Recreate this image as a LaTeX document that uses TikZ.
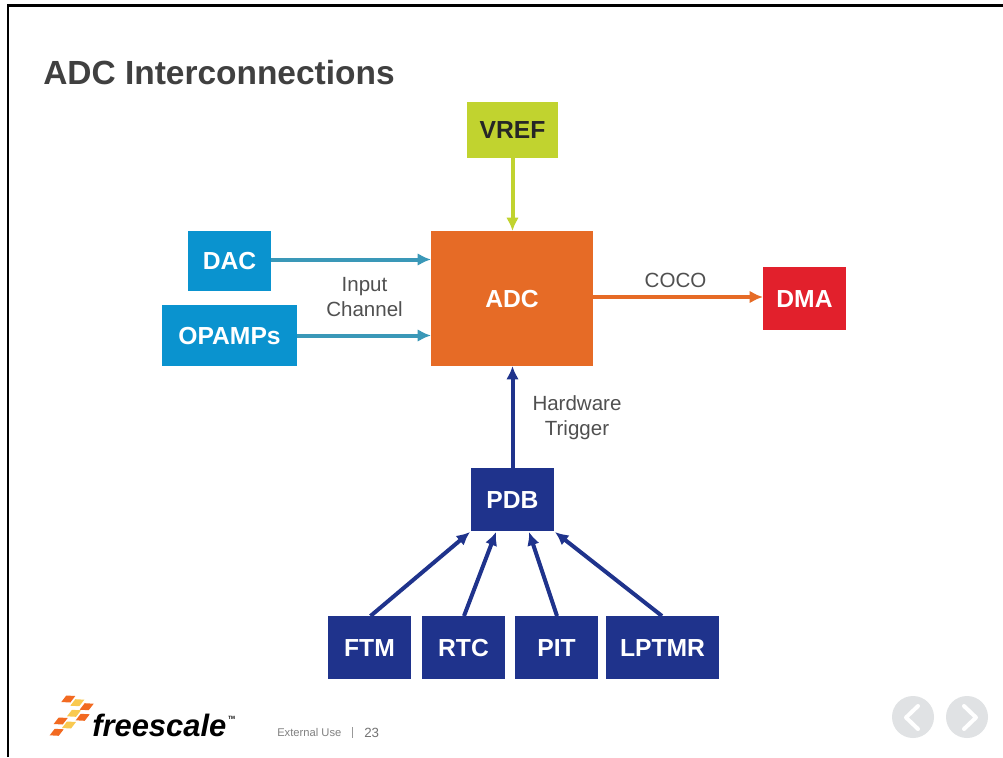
\documentclass[tikz,border=0pt]{standalone}
\usepackage{fontspec}
\setmainfont{Liberation Sans}
\usetikzlibrary{arrows.meta,calc}
\definecolor{navy}{HTML}{1F338C}
\definecolor{cyanbox}{HTML}{0A93CF}
\definecolor{tealline}{HTML}{3A98B8}
\definecolor{orangebox}{HTML}{E66B26}
\definecolor{limebox}{HTML}{C1D32F}
\definecolor{redbox}{HTML}{E2202C}
\definecolor{txt}{HTML}{505050}
\definecolor{logoo}{HTML}{F26A21}
\definecolor{logoy}{HTML}{F9C950}
\definecolor{navgrey}{HTML}{E0E2E4}
\tikzset{
  x=0.75pt,y=-0.75pt,
  blk/.style={inner sep=0pt,outer sep=0pt,text=white,text height=13.2pt,text depth=0pt,font=\fontsize{18.5}{22}\selectfont\bfseries,anchor=north west},
  conn/.style={line width=3pt,-{Latex[length=10pt,width=9.5pt]}},
  lbl/.style={text=txt,font=\fontsize{15.4}{18.7}\selectfont,align=center,inner sep=0pt},
  navbtn/.style={circle,fill=navgrey,draw=none,minimum size=31.5pt,inner sep=0pt},
  chev/.style={draw=white,line width=3pt,line cap=round,line join=round}
}
\newcommand{\bx}[7]{\node[blk,fill=#2,minimum width=#5*0.75pt,minimum height=#6*0.75pt] (#1) at (#3,#4) {#7};}
\newcommand{\logopiece}[3]{\fill[#3] (#1,#2) ++(-7,3) -- ++(5,-6.5) -- ++(9,0.5) -- ++(-5,6.5) -- cycle;}
\begin{document}
\begin{tikzpicture}
\useasboundingbox (0,0) rectangle (1003,757);
\fill[white] (0,0) rectangle (1003,757);
% slide frame
\draw[black,line width=1.6pt] (8,757) -- (8,5.5) -- (1003,5.5);
% title
\node[anchor=west,inner sep=0pt,text=black!75,font=\fontsize{25.1}{28}\selectfont\bfseries] (title) at (43,73) {ADC Interconnections};
% blocks
\bx{vref}{limebox}{467}{102}{91}{56}{\textcolor{black!85}{VREF}}
\bx{adc}{orangebox}{431}{231}{162}{135}{ADC}
\bx{dac}{cyanbox}{188}{231}{83}{60}{DAC}
\bx{opamps}{cyanbox}{162}{305}{135}{61}{OPAMPs}
\bx{dma}{redbox}{763}{267}{83}{63}{DMA}
\bx{pdb}{navy}{471}{468}{83}{63}{PDB}
\bx{ftm}{navy}{328}{616}{83}{63}{FTM}
\bx{rtc}{navy}{422}{616}{83}{63}{RTC}
\bx{pit}{navy}{515}{616}{83}{63}{PIT}
\bx{lptmr}{navy}{606}{616}{113}{63}{LPTMR}
% connector ends on the PDB lower edge
\coordinate (pa) at (470,532);
\coordinate (pb) at (496,532);
\coordinate (pc) at (529,532);
\coordinate (pd) at (555,532);
\coordinate (fa) at (370.5,616);
\coordinate (fb) at (464,616);
\coordinate (fc) at (557,616);
\coordinate (fd) at (662,616);
% connectors
\draw[conn,limebox] (vref.south) -- (vref.south |- adc.north);
\draw[conn,tealline] ($(dac.east)+(0,-1.5)$) -- ($(dac.east -| adc.west)+(0,-1.5)$);
\draw[conn,tealline] (opamps.east) -- (opamps.east -| adc.west);
\draw[conn,orangebox] ($(adc.east)+(0,-1.5)$) -- ($(adc.east -| dma.west)+(0,-1.5)$);
\draw[conn,navy] (pdb.north) -- (pdb.north |- adc.south);
\draw[conn,navy] (fa) -- (pa);
\draw[conn,navy] (fb) -- (pb);
\draw[conn,navy] (fc) -- (pc);
\draw[conn,navy] (fd) -- (pd);
% labels
\node[lbl] (linput) at (364.5,297) {Input\\Channel};
\node[lbl] (lcoco) at (675.5,280) {COCO};
\node[lbl] (lhw) at (577,418) {Hardware\\Trigger};
% logo
\logopiece{68.3}{699}{logoo}
\logopiece{77.3}{702.7}{logoy}
\logopiece{86.7}{706.7}{logoo}
\logopiece{74}{713.3}{logoy}
\logopiece{82.7}{717.3}{logoo}
\logopiece{60.7}{721}{logoo}
\logopiece{69}{725}{logoy}
\logopiece{56.7}{732.3}{logoo}
\node[anchor=base west,inner sep=0pt,font=\fontsize{23.2}{24}\selectfont\bfseries\itshape] (fs) at (92,736) {freescale};
\node[anchor=base west,inner sep=0pt,font=\fontsize{3.5}{5}\selectfont\bfseries] (tm) at (228,719) {TM};
\node[anchor=base west,inner sep=0pt,text=black!50,font=\fontsize{8.4}{9}\selectfont] (ext) at (277,736) {External Use};
\draw[black!40,line width=0.6pt] (352,727) -- (352,738);
\node[anchor=base west,inner sep=0pt,text=black!55,font=\fontsize{10}{12}\selectfont] (num) at (364,737) {23};
% nav buttons
\node[navbtn] (prev) at (913,717) {};
\node[navbtn] (next) at (967,717) {};
\draw[chev] (918,706) -- (906,717.5) -- (918,729);
\draw[chev] (964,706) -- (976,717.5) -- (964,729);
\end{tikzpicture}
\end{document}
